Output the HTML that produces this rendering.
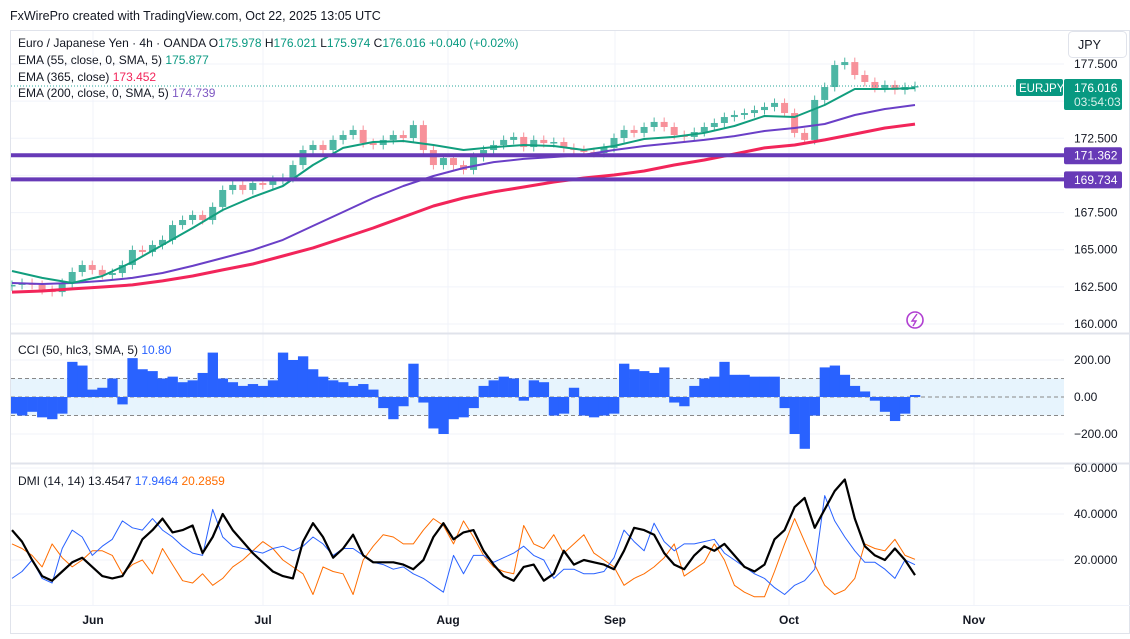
<!DOCTYPE html>
<html><head><meta charset="utf-8">
<style>
html,body{margin:0;padding:0;background:#fff;}
body{width:1130px;height:639px;overflow:hidden;position:relative;font-family:"Liberation Sans",sans-serif;}
svg{position:absolute;left:0;top:0;}
text{font-family:"Liberation Sans",sans-serif;}
</style></head>
<body>
<svg id="chart" width="1130" height="639" viewBox="0 0 1130 639"></svg>
<script>
// ---------- DATA ----------
const monthLabels = ["Jun","Jul","Aug","Sep","Oct","Nov"];
const priceTicks = [177.5,172.5,167.5,165.0,162.5,160.0];
const priceTickLabels = ["177.500","172.500","167.500","165.000","162.500","160.000"];
const closes = [162.63,162.76,162.63,162.29,162.15,162.76,163.50,163.97,163.64,163.30,163.43,163.97,164.98,164.85,165.32,165.66,166.66,167.00,167.34,167.00,167.88,169.02,169.36,169.02,169.49,169.36,169.69,169.83,170.70,171.71,172.05,171.71,172.39,172.72,173.06,172.18,172.05,172.39,172.72,172.52,173.39,171.71,170.70,171.17,170.70,170.37,171.24,171.71,172.05,172.39,172.59,171.91,172.39,172.18,172.25,171.85,171.71,171.58,171.51,171.85,172.52,173.06,172.86,173.26,173.60,173.26,172.72,172.59,172.92,173.26,173.53,173.93,174.07,174.20,174.40,174.61,174.88,174.20,172.86,172.39,175.08,175.95,177.43,177.63,176.76,176.29,175.89,176.09,175.75,175.95,176.016];
const ema55 = [163.57,163.10,162.76,163.23,164.17,165.32,166.46,167.67,168.55,169.29,170.70,171.85,172.25,172.32,172.05,171.71,171.91,172.05,171.98,171.71,171.98,172.45,172.59,172.86,173.33,174.00,173.93,174.74,175.82,175.82,175.877];
const ema200 = [162.76,162.69,162.76,162.90,163.10,163.43,163.91,164.44,164.98,165.66,166.60,167.54,168.48,169.29,169.96,170.50,170.90,171.11,171.24,171.38,171.71,171.98,172.18,172.39,172.65,172.99,173.19,173.46,174.07,174.47,174.739];
const ema365 = [162.15,162.22,162.36,162.49,162.63,162.90,163.23,163.64,164.04,164.58,165.12,165.79,166.46,167.20,167.94,168.48,168.89,169.22,169.56,169.83,170.03,170.30,170.70,171.04,171.44,171.85,172.05,172.39,172.79,173.19,173.452];
const supportLevels = [171.362,169.734];
const cciTicks = [200,0,-200];
const cciValues = [-90,-100,-80,-110,-120,-90,190,170,40,50,100,-40,210,150,140,100,110,80,90,130,240,100,80,60,70,60,90,240,200,220,150,110,90,80,60,70,40,-60,-120,-50,180,-30,-170,-200,-120,-110,-60,60,90,110,100,-20,90,80,-100,-90,50,-100,-110,-100,-90,180,150,140,130,160,-30,-50,60,100,110,190,120,120,110,110,110,-60,-200,-280,-100,160,170,120,60,30,-20,-80,-130,-90,10.8];
const dmiTicks = [60,40,20];
const adxValues = [33,28,20,13,11,15,19,21,17,13,12,13,20,29,33,38,32,33,35,23,30,40,33,28,23,19,15,13,12,28,36,30,21,25,31,22,19,19,19,18,16,20,30,36,29,32,33,24,18,13,11,17,18,11,14,24,18,20,19,18,16,24,34,33,31,23,18,16,22,26,24,27,22,17,15,18,29,33,43,47,34,42,50,55,38,26,22,20,25,20,13.45];
const diPlus = [12,15,20,12,10,25,33,30,22,26,29,37,34,33,38,33,30,26,23,22,42,30,26,25,24,23,25,26,24,26,30,27,22,25,25,22,19,18,16,17,14,12,9,6,22,14,22,22,19,21,23,26,22,20,12,16,16,14,14,15,21,33,28,24,36,28,24,27,27,28,29,23,20,17,14,12,8,5,9,11,16,48,37,30,24,19,19,16,12,20,17.95];
const diMinus = [27,25,22,17,27,21,17,20,24,24,22,14,18,20,14,25,18,11,10,14,9,12,17,20,24,28,25,20,17,14,5,17,15,14,5,20,26,31,30,27,27,33,38,35,27,37,30,22,17,15,14,35,27,25,31,23,27,31,23,20,17,9,12,14,17,21,27,13,16,19,27,20,9,6,4,4,15,27,38,28,18,9,5,7,12,27,25,24,29,22,20.29];

// ---------- LAYOUT / SCALES ----------
const svg = document.getElementById('chart');
const NS = 'http://www.w3.org/2000/svg';
const X0 = 12, X1 = 915, PLOT_R = 1064;
const monthX = {start:93, step:[0,170,185,167,174,185]};
function xAt(i, n){ return X0 + i*(X1-X0)/(n-1); }
function yPrice(v){ return 64 + (177.5 - v)*14.857; }
function yCci(v){ return 397 - v*0.185; }
function yDmi(v){ return 560 - (v-20)*2.3; }
function el(tag, attrs, parent){
  const e = document.createElementNS(NS, tag);
  for (const k in attrs) e.setAttribute(k, attrs[k]);
  (parent||svg).appendChild(e); return e;
}
function txt(s, attrs, parent){ const t = el('text', attrs, parent); t.textContent = s; return t; }

el('rect',{x:0,y:0,width:1130,height:639,fill:'#ffffff'});
const defs = el('defs',{});
const cp = el('clipPath',{id:'plotclip'},defs);
el('rect',{x:11,y:31,width:PLOT_R-11,height:575},cp);

const frame = el('rect',{x:10.5,y:30.5,width:1119,height:603,fill:'none',stroke:'#e0e3eb'});



let mx = monthX.start;
const monthPos = [];
monthLabels.forEach((m,i)=>{ mx += monthX.step[i]; monthPos.push(mx); });
const grid = el('g',{});


monthPos.forEach(x=>{ el('line',{x1:x,x2:x,y1:31,y2:605,stroke:'#f0f3fa'},grid); });
priceTicks.concat([175,170]).forEach(v=>{ el('line',{x1:11,x2:PLOT_R,y1:yPrice(v),y2:yPrice(v),stroke:'#f0f3fa'},grid); });
cciTicks.forEach(v=>{ el('line',{x1:11,x2:PLOT_R,y1:yCci(v),y2:yCci(v),stroke:'#f0f3fa'},grid); });
dmiTicks.forEach(v=>{ el('line',{x1:11,x2:PLOT_R,y1:yDmi(v),y2:yDmi(v),stroke:'#f0f3fa'},grid); });

el('line',{x1:11,x2:1130,y1:333.5,y2:333.5,stroke:'#e0e3eb',"stroke-width":2});
el('line',{x1:11,x2:1130,y1:463.5,y2:463.5,stroke:'#e0e3eb',"stroke-width":2});
el('line',{x1:11,x2:1130,y1:605.5,y2:605.5,stroke:'#f0f3fa'});

const hdr = txt('FxWirePro created with TradingView.com, Oct 22, 2025 13:05 UTC',{x:10,y:20,"font-size":12.5,fill:'#131722'});



// ---------- PRICE PANE ----------
const candles = el('g',{"clip-path":'url(#plotclip)'});


closes.forEach((c,i)=>{
  const o = i===0 ? c-0.1 : closes[i-1];
  const up = c >= o;
  const x = xAt(i, closes.length);
  const hi = Math.max(o,c)+0.3, lo = Math.min(o,c)-0.3;
  const col = up ? '#4db6a4' : '#f7919a';
  el('line',{x1:x,x2:x,y1:yPrice(hi),y2:yPrice(lo),stroke:col,"stroke-width":1},candles);
  const b = el('rect',{x:x-3.5,y:yPrice(Math.max(o,c)),width:7,height:Math.max(1.5,Math.abs(yPrice(o)-yPrice(c))),fill:col},candles);
  
  
});
function lineSeries(arr, scale, color, width, name){
  const pts = arr.map((v,i)=>xAt(i,arr.length).toFixed(1)+','+scale(v).toFixed(1)).join(' ');
  const p = el('polyline',{points:pts,fill:'none',stroke:color,"stroke-width":width,"stroke-linejoin":'round'});
  
  
  return p;
}
lineSeries(ema365, yPrice, '#f2255a', 3, 'ema-365-line');
lineSeries(ema200, yPrice, '#6a3fc7', 2, 'ema-200-line');
lineSeries(ema55, yPrice, '#119e7e', 2, 'ema-55-line');

const lastY = yPrice(closes[closes.length-1]);
el('line',{x1:11,x2:PLOT_R,y1:lastY,y2:lastY,stroke:'#26a69a',"stroke-dasharray":'1,2'});

supportLevels.forEach(v=>{
  const y = yPrice(v);
  const l = el('line',{x1:11,x2:PLOT_R,y1:y,y2:y,stroke:'#673ab7',"stroke-width":4});
  
  
  const r = el('rect',{x:1064,y:y-8,width:58,height:17,rx:2,fill:'#673ab7'});
  
  
  txt(v.toFixed(3),{x:1074,y:y+4.5,"font-size":12,fill:'#fff'});
});

priceTicks.forEach((v,i)=>{
  const t = txt(priceTickLabels[i],{x:1074,y:yPrice(v)+4,"font-size":12,fill:'#131722'});
  
  
});

const jb = el('rect',{x:1068.5,y:31.5,width:58,height:26,rx:4,fill:'#fff',stroke:'#e0e3eb'});


txt('JPY',{x:1078,y:49,"font-size":12.5,fill:'#131722'});

const sl = el('rect',{x:1016,y:79,width:47,height:17,rx:2,fill:'#089981'});


txt('EURJPY',{x:1019,y:92,"font-size":11.5,fill:'#fff'});
const pl = el('rect',{x:1064,y:79,width:58,height:31,rx:2,fill:'#089981'});


txt('176.016',{x:1074,y:92,"font-size":12,fill:'#fff'});
txt('03:54:03',{x:1074,y:106,"font-size":12,fill:'#d8f0ea'});

const lg = el('g',{});


function legendLine(y, parts){
  const t = el('text',{x:18,y:y,"font-size":12,fill:'#131722'},lg);
  parts.forEach(p=>{ const s = el('tspan',{fill:p[1]},t); s.textContent = p[0]; });
}
const G='#089981';
legendLine(47,[['Euro / Japanese Yen · 4h · OANDA  O','#131722'],['175.978','#089981'],['  H','#131722'],['176.021',G],['  L','#131722'],['175.974',G],['  C','#131722'],['176.016',G],['  +0.040 (+0.02%)',G]]);
legendLine(64,[['EMA (55, close, 0, SMA, 5)  ','#131722'],['175.877',G]]);
legendLine(81,[['EMA (365, close)  ','#131722'],['173.452','#f2255a']]);
legendLine(97,[['EMA (200, close, 0, SMA, 5)  ','#131722'],['174.739','#7e57c2']]);

const ic = el('circle',{cx:915,cy:320,r:8,fill:'none',stroke:'#b03ed1',"stroke-width":1.6});


el('path',{d:'M917 314 L912 321 L916 321 L913 326',fill:'none',stroke:'#b03ed1',"stroke-width":1.4});

// ---------- CCI PANE ----------
el('rect',{x:11,y:yCci(100),width:PLOT_R-11,height:yCci(-100)-yCci(100),fill:'#e3f2fd',opacity:0.85});
[100,0,-100].forEach(v=>{ el('line',{x1:11,x2:PLOT_R,y1:yCci(v),y2:yCci(v),stroke:'#888',"stroke-dasharray":'4,3',"stroke-width":1}); });
const cg = el('g',{"clip-path":'url(#plotclip)'});


const bw = (X1-X0)/(cciValues.length-1);
cciValues.forEach((v,i)=>{
  const x = xAt(i,cciValues.length);
  const y0 = yCci(0), y1 = yCci(v);
  const b = el('rect',{x:x-bw/2,y:Math.min(y0,y1),width:bw+0.3,height:Math.abs(y1-y0),fill:'#2962ff'},cg);
  
  
});
cciTicks.forEach(v=>{
  const t = txt(v.toFixed(2).replace('-','−'),{x:1074,y:yCci(v)+4,"font-size":12,fill:'#131722'});
  
  
});
const cl = el('text',{x:18,y:354,"font-size":12,fill:'#131722'});


cl.innerHTML = 'CCI (50, hlc3, SMA, 5)  <tspan fill="#2962ff">10.80</tspan>';

// ---------- DMI PANE ----------
lineSeries(diMinus, yDmi, '#ff6d00', 1, 'di-minus-line');
lineSeries(diPlus, yDmi, '#2962ff', 1, 'di-plus-line');
lineSeries(adxValues, yDmi, '#000000', 2.2, 'adx-line');
dmiTicks.forEach(v=>{
  const t = txt(v.toFixed(4),{x:1074,y:yDmi(v)+4,"font-size":12,fill:'#131722'});
  
  
});
const dl = el('text',{x:18,y:485,"font-size":12,fill:'#131722'});


dl.innerHTML = 'DMI (14, 14)  13.4547  <tspan fill="#2962ff">17.9464</tspan>  <tspan fill="#ff6d00">20.2859</tspan>';

// ---------- TIME AXIS ----------
monthLabels.forEach((m,i)=>{
  const t = txt(m,{x:monthPos[i],y:624,"font-size":12,"font-weight":'bold',fill:'#131722',"text-anchor":'middle'});
  
  
});
</script>
</body></html>
